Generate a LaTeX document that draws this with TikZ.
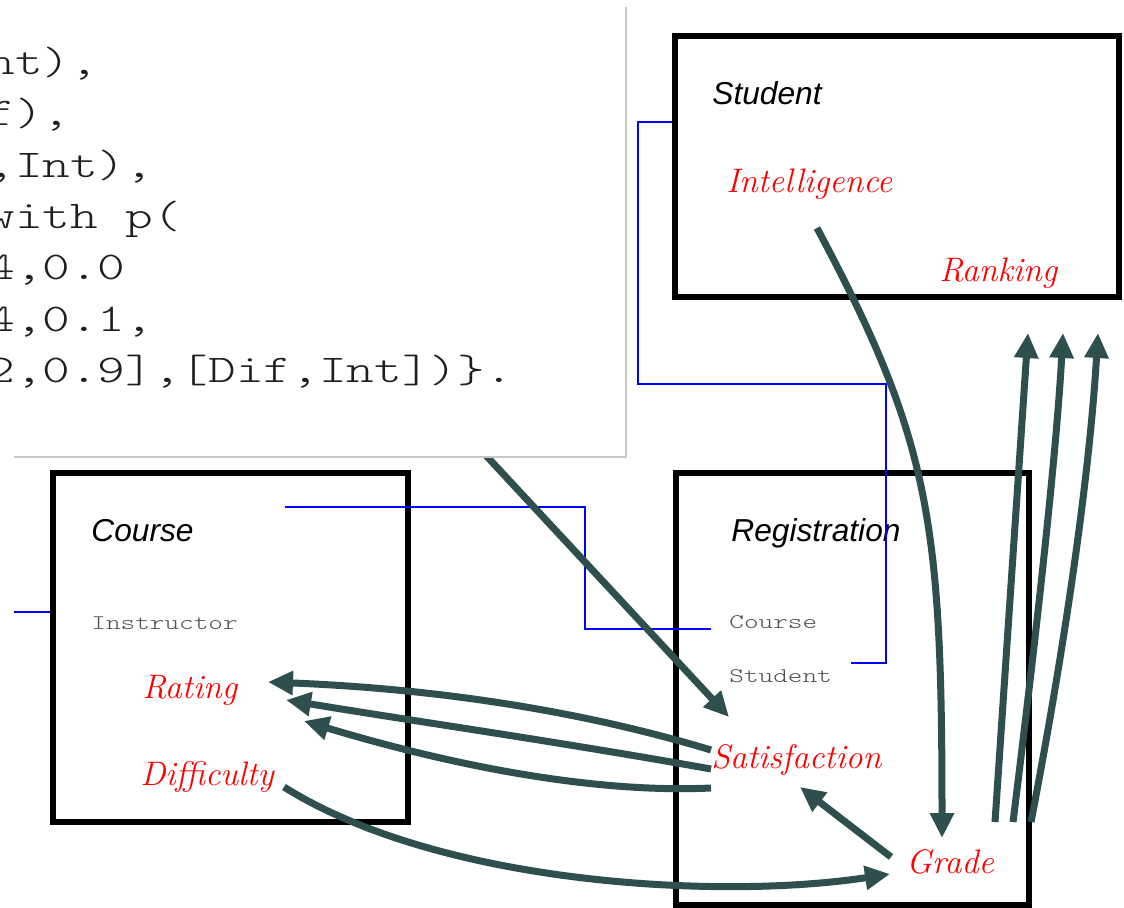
\documentclass[tikz,border=0pt]{standalone}
\usepackage{fontspec}
\newfontfamily\headfont{Liberation Sans}
\newfontfamily\codefont{lmmonolt10-regular}[Extension=.otf, FakeStretch=1.34]
\usetikzlibrary{arrows.meta}

\definecolor{depgreen}{HTML}{2F4F4F}
\definecolor{codeink}{HTML}{1E1E1E}
\definecolor{fieldink}{HTML}{505050}
\definecolor{paneledge}{HTML}{C8C8C8}

\tikzset{
  entity/.style={draw, line width=3pt, inner sep=0pt},
  enttitle/.style={anchor=base west, inner sep=0pt, font=\headfont\itshape\fontsize{15.85}{19}\selectfont},
  field/.style={anchor=base west, inner sep=0pt, text=fieldink, font=\codefont\fontsize{10.4}{12}\selectfont},
  attr/.style={anchor=base west, inner sep=0pt, text=red, font=\itshape\fontsize{17}{20}\selectfont},
  codeline/.style={anchor=base west, inner sep=0pt, text=codeink, font=\codefont\fontsize{19.65}{24}\selectfont},
  dep/.style={draw=depgreen, line width=3.5pt, -{Triangle[length=12.5pt,width=11.5pt]}},
  fk/.style={draw=blue, line width=1.25pt},
}

\begin{document}
\begin{tikzpicture}[x=0.5pt, y=-0.5pt]
  \path[use as bounding box, fill=white] (0,0) rectangle (1124,908);

  % entity boxes
  \node[entity, minimum width=222pt, minimum height=130.5pt] (student) at (896.5,166.5) {};
  \node[entity, minimum width=177.5pt, minimum height=174.25pt] (course) at (230.5,647.75) {};
  \node[entity, minimum width=176.5pt, minimum height=215.75pt] (registration) at (852.5,689.25) {};

  % table names and key fields
  \node[enttitle] (stu-title) at (712,105) {Student};
  \node[enttitle] (crs-title) at (91,542) {Course};
  \node[enttitle] (reg-title) at (731,542) {Registration};
  \node[field] (instructor) at (91,629) {Instructor};
  \node[field] (reg-course) at (729,628) {Course};
  \node[field] (reg-student) at (729,682) {Student};

  % attributes
  \node[attr] (intelligence) at (726,193) {Intelligence};
  \node[attr] (ranking) at (939,282) {Ranking};
  \node[attr] (rating) at (142,698) {Rating};
  \node[attr] (difficulty) at (140,785) {Difficulty};
  \node[attr] (satisfaction) at (711,768) {Satisfaction};
  \node[attr] (grade) at (906,873) {Grade};

  % foreign keys
  \coordinate (instr-link) at (14,612);
  \draw[fk] (instr-link) -- (instr-link -| course.west);
  \draw[fk] ([shift={(194,-35)}]crs-title.base west) -- ++(300,0) |- ([shift={(-18,1)}]reg-course.base west);
  \draw[fk] ([shift={(122,-19)}]reg-student.base west) -- ++(35,0) |- ++(-248,-279) |- ([shift={(0,-44.5)}]student.west);

  % probabilistic dependencies
  \coordinate (spec-out) at (440,406);
  \draw[dep] (spec-out) -- ([shift={(18,-51)}]satisfaction.base west);
  \draw[dep] ([shift={(91,35)}]intelligence.base west) .. controls (930,440) and (942,520) .. ([shift={(36,-35)}]grade.base west);
  \draw[dep] ([shift={(-15,-16)}]grade.base west) -- ([shift={(89,19)}]satisfaction.base west);
  \draw[dep] ([shift={(144,2)}]difficulty.base west) .. controls (440,885) and (720,900) .. ([shift={(-16,1)}]grade.base west);
  \draw[dep] ([shift={(0,-18)}]satisfaction.base west) .. controls (565,706) and (417,688) .. ([shift={(126,-16)}]rating.base west);
  \draw[dep] ([shift={(0,1)}]satisfaction.base west) .. controls (560,742) and (420,722) .. ([shift={(144,2)}]rating.base west);
  \draw[dep] ([shift={(0,20)}]satisfaction.base west) .. controls (606,793) and (470,771) .. ([shift={(162,23)}]rating.base west);
  \draw[dep] ([shift={(89,-51)}]grade.base west) -- ([shift={(89,51)}]ranking.base west);
  \draw[dep] ([shift={(107,-51)}]grade.base west) .. controls (1040,605) and (1057,442) .. ([shift={(124,51)}]ranking.base west);
  \draw[dep] ([shift={(125,-51)}]grade.base west) .. controls (1068,629) and (1090,466) .. ([shift={(159,51)}]ranking.base west);

  % spec panel, laid over the tail of its arrow
  \node[fill=white, inner sep=0pt, outer sep=0pt, minimum width=306pt, minimum height=225pt] (spec) at (320,232) {};
  \draw[paneledge, line width=1pt] (spec.south west) -- (spec.south east) -- (spec.north east);
  \path
    (-13,75) node[codeline] (c1) {nt),}
    (-13,126) node[codeline] (c2) {f),}
    (-13,178) node[codeline] (c3) {,Int),}
    (-13,229) node[codeline] (c4) {with p(}
    (-13,280) node[codeline] (c5) {4,0.0}
    (-13,332) node[codeline] (c6) {4,0.1,}
    (-13,383) node[codeline] (c7) {2,0.9],[Dif,Int])\}.};
\end{tikzpicture}
\end{document}
